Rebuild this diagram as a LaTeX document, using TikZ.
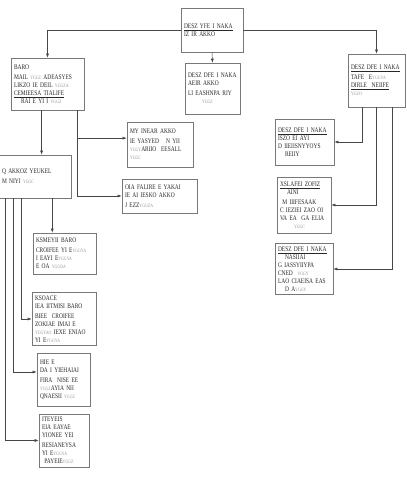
\documentclass[tikz,border=0pt]{standalone}
\usepackage{fontspec}
\setmainfont{Liberation Serif}[FakeStretch=0.78]
\usepackage{xcolor}
\definecolor{textcolor}{RGB}{39,39,39}
\definecolor{boxcolor}{RGB}{120,120,120}
\definecolor{linecolor}{RGB}{70,70,70}
\definecolor{notecolor}{RGB}{150,150,150}
\usetikzlibrary{arrows.meta,calc}

\newcommand{\gry}[1]{\textcolor{notecolor}{\fontsize{5}{6}\selectfont #1}}

\begin{document}
\begin{tikzpicture}[x=1pt, y=-1pt,
  every node/.style={color=textcolor, font=\fontsize{7}{8}\selectfont},
  box/.style={draw=boxcolor, line width=0.6pt, fill=white, align=left, inner sep=3pt},
  conn/.style={draw=linecolor, line width=0.5pt, -{Latex[length=4pt, width=3pt]}}]
  \useasboundingbox (0,0) rectangle (407,477);

  \node[box, text width=56pt, minimum height=44pt] (top) at (212,30) {\underline{DESZ YFE I NAKA}\\ IZ IR AKKO};
  \node[box, text width=67pt, minimum height=52pt] (baro) at (47.5,84) {BARO\\[2pt] MAIL \gry{YGGZ} ADEASYES\\ LIKZO IE DEIL \gry{YGGZA}\\ \underline{CEMIEESA TIALIFE}\\ \quad RAI E YI I \gry{YGGZ}};
  \node[box, text width=49pt, minimum height=51pt] (mid) at (212.5,88.5) {DESZ DFE I NAKA\\ AEIR AKKO\\[2pt] LI EASHNPA RIY\\ \quad\quad\gry{YGGZ}};
  \node[box, text width=60pt, minimum height=45pt] (sel) at (160,144.5) {MY INEAR AKKO\\[2pt] IE YASYED \ \ N YII\\ \gry{YGGY}ARIIO \ EESALL\\ \gry{YGGC}};
  \node[box, text width=69pt, minimum height=34pt] (oia) at (159.5,196) {OIA FALIRE E YAKAI\\ IE AI IESKO AKKO\\[2pt] J EZZ\gry{YGGZA}};

  \node[box, text width=51pt, minimum height=53pt] (rtop) at (376.5,80.5) {\underline{DESZ DFE I NAKA}\\[2pt] TAFE \ E\gry{YGGYA}\\ \underline{DIRLE \ NEIIFE}\\ \gry{YGZO}};
  \node[box, text width=53pt, minimum height=46pt] (ra) at (304.5,142) {\underline{DESZ DFE I NAKA}\\ ISZO EI AYI\\ D IIEIISNYYOYS\\ \quad REIIY};
  \node[box, text width=48pt, minimum height=56pt] (rb) at (304,205) {\underline{XSLAFEI ZOFIZ}\\ \quad AINI\\[2pt] \ M IIIFESAAK\\ C IEZIEI ZAO OI\\ VA EA \ GA ELIA\\ \quad\quad\gry{YGGC}};
  \node[box, text width=52pt, minimum height=46pt] (rc) at (304,269) {\underline{DESZ DFE I NAKA}\\ \quad NASIIAI\\ G IASSYIIYPA\\ CNED \ \gry{YGGY}\\ LAO CIAEISA EAS\\ \quad D A\gry{YGGY}};

  \node[box, text width=80pt, minimum height=43pt] (akk) at (28,176.5) {\hspace*{14pt}Q AKKOZ YEUKEL\\[2pt] \hspace*{14pt}M NIYI \gry{YGGC}};
  \node[box, text width=57pt, minimum height=41pt] (ks) at (64.5,253.5) {KSMEYII BARO\\[2pt] CROIFEE YI E\gry{YGGYA}\\ I EAYI E\gry{YGGYA}\\ E OA \gry{YGGDA}};
  \node[box, text width=58pt, minimum height=52pt] (ksoa) at (64,319) {KSOACE\\ IEA IITMISI BARO\\[2pt] BIEE \ CROIFEE\\ ZOKIAE IMAI E\\ \gry{YGGYAO} IEXE ENIAO\\ YI E\gry{YGGYA}};
  \node[box, text width=47pt, minimum height=53pt] (hie) at (63.5,379.5) {HIE E\\ DA I YIEHAIAI\\[2pt] FIRA \ NISE EE\\ \gry{YGGZ}AYIA NII\\ QNAESII \gry{YGGZ}};
  \node[box, text width=44pt, minimum height=53pt] (ite) at (64,440.5) {ITEYEIS\\ EIA EAYAE\\ YIONEE YEI\\[2pt] RESIANEYSA\\ YI E\gry{YGGYA}\\ \ PAYEIE\gry{YGGZ}};

  \draw[conn] (top.west) -| (baro.north);
  \draw[conn] (top.east) -| (rtop.north);
  \draw[conn] (top.south) -- (mid.north);

  \coordinate (b1) at ($(baro.south west)!0.42!(baro.south east)$);
  \coordinate (b2) at ($(baro.south west)!0.9!(baro.south east)$);
  \draw[conn] (b1) -- (b1 |- akk.north);
  \draw[conn] (b2) |- ($(sel.north west)!0.36!(sel.south west)$);
  \draw[conn] (b2) |- (oia.west);

  \coordinate (r1) at ($(rtop.south west)!0.26!(rtop.south east)$);
  \coordinate (r2) at ($(rtop.south west)!0.49!(rtop.south east)$);
  \coordinate (r3) at ($(rtop.south west)!0.77!(rtop.south east)$);
  \draw[conn] (r1) |- (ra.east);
  \draw[conn] (r2) |- (rb.east);
  \draw[conn] (r3) |- (rc.east);

  \coordinate (a1) at ($(akk.south west)!0.78!(akk.south east)$);
  \coordinate (a2) at ($(akk.south west)!0.42!(akk.south east)$);
  \coordinate (a3) at ($(akk.south west)!0.33!(akk.south east)$);
  \coordinate (a4) at ($(akk.south west)!0.24!(akk.south east)$);
  \draw[conn] (a1) -- (a1 |- ks.north);
  \draw[conn] (a2) |- (ksoa.west);
  \draw[conn] (a3) |- ($(hie.north west)!0.36!(hie.south west)$);
  \draw[conn] (a4) |- (ite.west);
\end{tikzpicture}
\end{document}
